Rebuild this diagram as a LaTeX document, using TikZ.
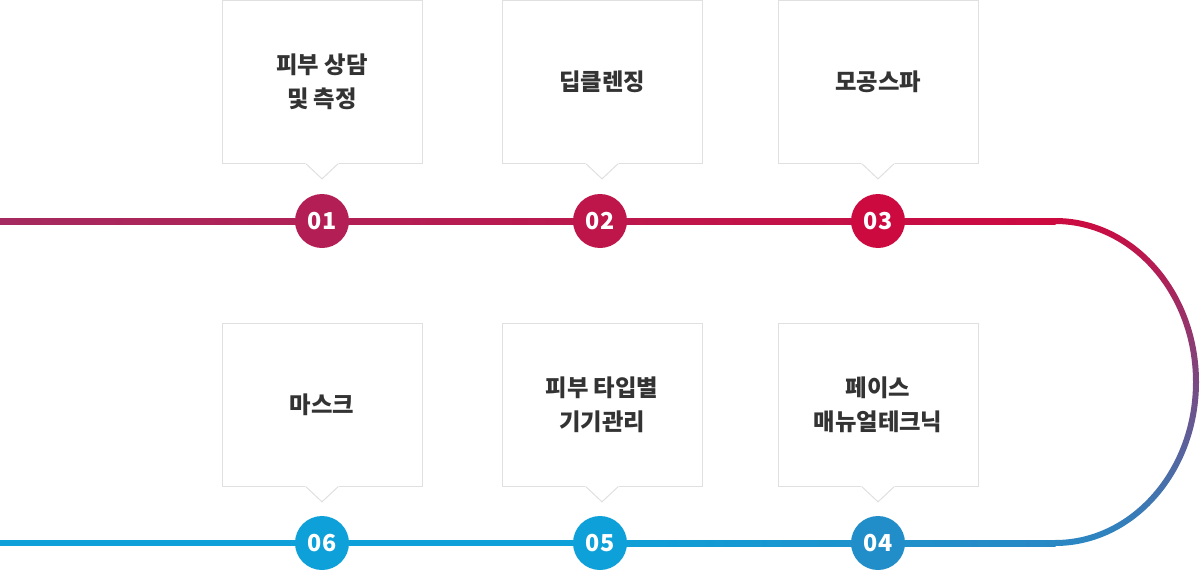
\documentclass[tikz,border=0pt]{standalone}
\usepackage{fontspec}
\newfontfamily\kr{Noto Sans CJK KR}
\usetikzlibrary{calc}

\definecolor{topL}{HTML}{A52A5F}
\definecolor{topR}{HTML}{CC0A40}
\definecolor{midP}{HTML}{A02C64}
\definecolor{botL}{HTML}{0EA0D8}
\definecolor{botR}{HTML}{2888C4}
\definecolor{boxgray}{HTML}{E0E0E0}
\definecolor{textgray}{HTML}{333333}

\tikzset{
  stepbox/.style={draw=boxgray, line width=0.75pt, fill=white,
    minimum width=150pt, minimum height=122pt, inner sep=0pt, align=center,
    text=textgray, font=\kr\bfseries\fontsize{17.5}{25.5}\selectfont},
  stepnum/.style={circle, minimum size=40.5pt, inner sep=0pt, text=white,
    font=\kr\bfseries\fontsize{17.5}{17.5}\selectfont},
  tail/.style={draw=boxgray, line width=0.75pt}
}

\begin{document}
\begin{tikzpicture}[x=0.75pt,y=-0.75pt]
  \useasboundingbox (0,0) rectangle (1200,571);

  % ends of the track
  \coordinate (tl) at (0,221);
  \coordinate (tm) at (600,221);
  \coordinate (tr) at (1055,221);
  \coordinate (bl) at (0,543);
  \coordinate (bm) at (600,543);
  \coordinate (br) at (1055,543);

  % upper run, lower run
  \shade[left color=topL, right color=topR] ($(tl)+(0,-3)$) rectangle ($(tr)+(0.5,3)$);
  \fill[botL] ($(bl)+(0,-3)$) rectangle ($(bm)+(0.5,3)$);
  \shade[left color=botL, right color=botR] ($(bm)+(0,-3)$) rectangle ($(br)+(0.5,3)$);

  % the bend on the right
  \shade[top color=topR, middle color=midP, bottom color=botR]
    ($(tr)+(0,-3)$) arc[start angle=-90, end angle=90, x radius=144, y radius=164]
    -- ($(br)+(0,-3)$) arc[start angle=90, end angle=-90, x radius=138, y radius=158]
    -- cycle;

  % speech boxes
  \foreach \name/\x/\y/\txt in {s1/322/82/{피부 상담\\및 측정}, s2/602/82/{딥클렌징},
      s3/878/82/{모공스파}, s4/878/405/{페이스\\매뉴얼테크닉},
      s5/602/405/{피부 타입별\\기기관리}, s6/322/405/{마스크}} {
    \node[stepbox] (\name) at (\x,\y) {\txt};
    \fill[white] ($(\name.south)+(-17,-1)$) -- ($(\name.south)+(0,15)$)
      -- ($(\name.south)+(17,-1)$) -- cycle;
    \draw[tail] ($(\name.south)+(-16,0)$) -- ($(\name.south)+(0,15)$)
      -- ($(\name.south)+(16,0)$);
  }

  % step numbers
  \foreach \name/\x/\y/\num/\col in {n1/322/221/01/{topR!35!topL}, n2/600/221/02/{topR!65!topL},
      n3/878/221/03/topR, n4/878/543/04/{botR!75!botL}, n5/600/543/05/botL,
      n6/322/543/06/botL} {
    \node[stepnum, fill=\col] (\name) at (\x,\y) {\num};
  }
\end{tikzpicture}
\end{document}
